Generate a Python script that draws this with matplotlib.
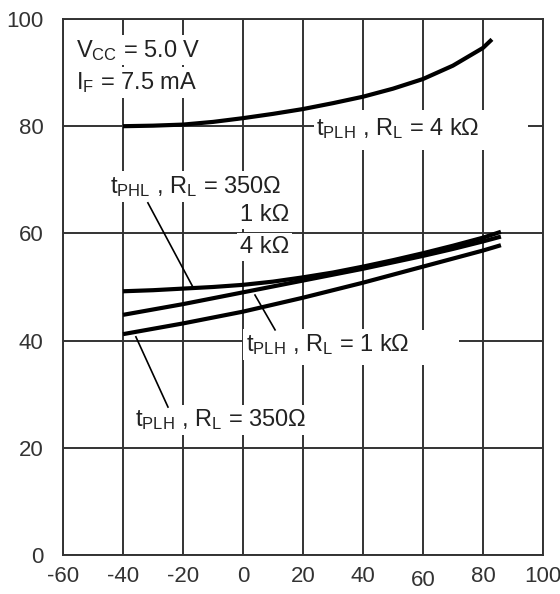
import matplotlib
matplotlib.use("Agg")
import matplotlib.pyplot as plt

plt.rcParams["font.family"] = ["Liberation Sans", "DejaVu Sans"]
plt.rcParams["mathtext.fontset"] = "custom"
plt.rcParams["mathtext.rm"] = "Liberation Sans"
plt.rcParams["mathtext.default"] = "regular"
plt.rcParams["axes.unicode_minus"] = False

# Температура, °C и время задержки, нс
t_4k = [-40, -30, -20, -10, 0, 10, 20, 30, 40, 50, 60, 70, 80, 83]
plh_4k = [80.0, 80.1, 80.3, 80.8, 81.5, 82.3, 83.2, 84.3, 85.5, 87.0, 88.8, 91.3, 94.6, 96.2]

t_low = [-40, -30, -20, -10, 0, 10, 20, 30, 40, 50, 60, 70, 80, 86]
phl_all = [49.2, 49.4, 49.7, 50.0, 50.4, 51.0, 51.8, 52.7, 53.8, 55.0, 56.3, 57.7, 59.2, 60.3]
plh_1k = [44.8, 45.8, 46.8, 47.9, 49.0, 50.1, 51.2, 52.3, 53.4, 54.6, 55.8, 57.1, 58.5, 59.4]
plh_350 = [41.2, 42.2, 43.2, 44.3, 45.4, 46.7, 48.0, 49.4, 50.8, 52.3, 53.8, 55.3, 56.8, 57.8]

x_ticks = [-60, -40, -20, 0, 20, 40, 60, 80, 100]
y_ticks = [0, 20, 40, 60, 80, 100]

fig = plt.figure(figsize=(5.6, 5.94), dpi=100)
ax = fig.add_axes([0.1125, 0.0657, 0.857, 0.9023])
ax.set_xlim(-60, 100)
ax.set_ylim(0, 100)
ax.set_xticks(x_ticks)
ax.set_yticks(y_ticks)
ax.tick_params(length=0, labelsize=16, colors="#333333")
ax.tick_params(axis="x", pad=8)
ax.tick_params(axis="y", pad=14)
for s in ax.spines.values():
    s.set_color("#333333")
    s.set_linewidth(1.4)
ax.grid(True, color="#333333", linewidth=1.4, zorder=1)
ax.set_axisbelow(True)

# подпись "60" в оригинале чуть ниже остальных
for lab in ax.get_xticklabels():
    if lab.get_text() == "60":
        lab.set_y(-0.007)

line_kw = dict(color="black", linewidth=3.0, solid_capstyle="butt", zorder=4)
ax.plot(t_4k, plh_4k, **line_kw)
ax.plot(t_low, phl_all, **line_kw)
ax.plot(t_low, plh_1k, **line_kw)
ax.plot(t_low, plh_350, **line_kw)

box = dict(facecolor="white", edgecolor="none", pad=2)
txt_kw = dict(fontsize=17, color="#222222", zorder=3, bbox=box)

ax.text(-55.5, 94.2, "V$_{CC}$ = 5.0 V", ha="left", va="center", **txt_kw)
ax.text(-55.5, 88.2, "I$_F$ = 7.5 mA", ha="left", va="center", **txt_kw)

ax.text(24.5, 79.5, "t$_{PLH}$ , R$_L$ = 4 kΩ", ha="left", va="center", **txt_kw)
ax.text(-44.3, 68.7, "t$_{PHL}$ , R$_L$ = 350Ω", ha="left", va="center", **txt_kw)
ax.text(7.3, 63.4, "1 kΩ", ha="center", va="center", **txt_kw)
ax.text(7.3, 57.5, "4 kΩ", ha="center", va="center", **txt_kw)
ax.text(1.0, 39.3, "t$_{PLH}$ , R$_L$ = 1 kΩ", ha="left", va="center", **txt_kw)
ax.text(-36.0, 25.2, "t$_{PLH}$ , R$_L$ = 350Ω", ha="left", va="center", **txt_kw)

# белые поля вокруг подписей, разрывающие сетку
ax.axvspan(24.0, 95.0, ymin=0.755, ymax=0.83, color="white", lw=0, zorder=2)
ax.axvspan(0.5, 72.0, ymin=0.355, ymax=0.42, color="white", lw=0, zorder=2)

# выноски
lead_kw = dict(color="black", linewidth=1.2, zorder=5)
ax.plot([-31.7, -16.7], [65.7, 50.0], **lead_kw)
ax.plot([10.7, 4.0], [42.0, 48.5], **lead_kw)
ax.plot([-25.0, -35.7], [27.6, 40.7], **lead_kw)

fig.savefig("out.png", dpi=100)
